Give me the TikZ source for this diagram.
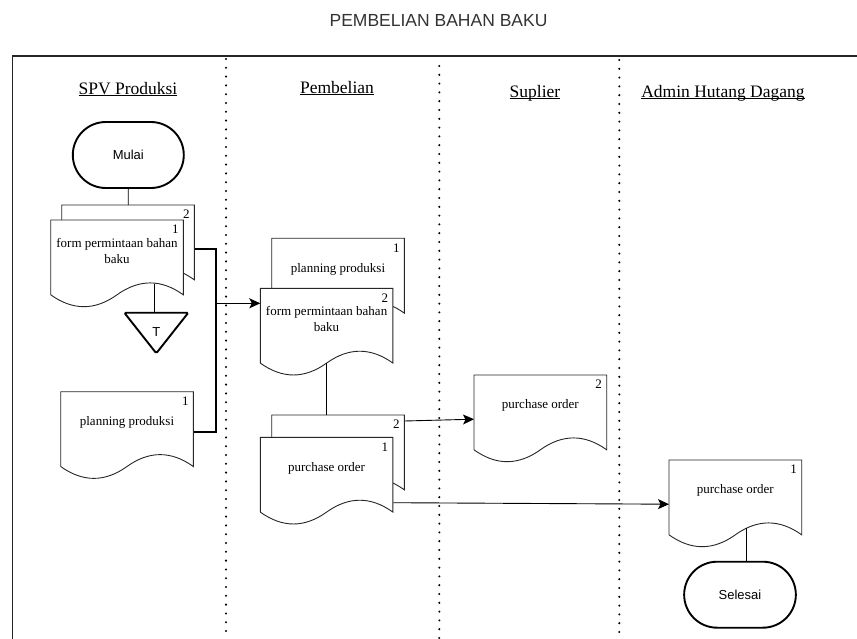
\documentclass[tikz,border=0pt]{standalone}
\usepackage{fontspec}
\setmainfont{Liberation Serif}
\setsansfont{Liberation Sans}
\usetikzlibrary{arrows.meta,calc}
\definecolor{titlegray}{HTML}{333333}
\newcommand\hdrul[1]{\setbox0\hbox{#1}\rlap{\rule[-2pt]{\wd0}{0.8pt}}\box0}
% #1 name, #2 X, #3 Y (top-left), #4 w, #5 h, #6 number, #7 text
\newcommand\docshape[7]{%
  \node[docframe, minimum width=#4pt, minimum height=#5pt, anchor=north west] (#1) at (#2,#3) {};
  \filldraw[docline] (#2,#3) -- ({#2+#4},#3) -- ({#2+#4},{#3+0.85*#5})
    .. controls ({#2+0.8333*#4},{#3+0.67*#5}) and ({#2+0.6667*#4},{#3+0.67*#5}) .. ({#2+0.5*#4},{#3+0.85*#5})
    .. controls ({#2+0.3333*#4},{#3+1.03*#5}) and ({#2+0.1667*#4},{#3+1.03*#5}) .. (#2,{#3+0.85*#5}) -- cycle;
  \node[numlabel] (#1-n) at ({#2+#4-8},{#3+9.5}) {#6};
  \node[doctext] (#1-t) at ({#2+#4/2},{#3+0.35*#5}) {#7};
}
\tikzset{
  docframe/.style={rectangle, draw=none, inner sep=0pt},
  docline/.style={draw=black!85, fill=white, line width=0.9pt},
  numlabel/.style={inner sep=0pt, font=\fontsize{13}{15}\selectfont},
  doctext/.style={inner sep=0pt, align=center, font=\fontsize{13}{16.5}\selectfont},
  term/.style={rectangle, draw=black, line width=1.9pt, rounded corners=33pt, minimum width=111pt, minimum height=66pt, fill=white, font=\sffamily\fontsize{13}{15}\selectfont},
  header/.style={inner sep=0pt, font=\fontsize{17.5}{20}\selectfont},
  title/.style={inner sep=0pt, text=titlegray, font=\sffamily\fontsize{17.5}{20}\selectfont},
  conn/.style={draw=black, line width=0.9pt},
  arrowconn/.style={draw=black, line width=0.9pt, -{Stealth[length=11pt,width=10pt,inset=2.5pt]}},
  bracket/.style={draw=black, line width=2pt},
  divider/.style={draw=black, line width=2.3pt, line cap=round, dash pattern=on 0pt off 8.8pt},
  frameline/.style={draw=black!85, line width=1.1pt},
  trishape/.style={draw=black, line width=1.9pt, rounded corners=1.5pt, fill=white},
  trilabel/.style={inner sep=0pt, font=\sffamily\fontsize{13}{15}\selectfont}
}
\begin{document}
\begin{tikzpicture}[x=1pt,y=-1pt]
\useasboundingbox (0,0) rectangle (857,639);
% title and frame
\node[title] (ttl) at (438.5,21) {PEMBELIAN BAHAN BAKU};
\draw[frameline] (857,56) -- (12.3,56) -- (12.3,639);
\draw[divider] (226,59) -- (226,639);
\draw[divider] (439.3,66) -- (439.3,639);
\draw[divider] (619.3,60) -- (619.3,639);
% headers
\node[header] (h1) at (128,89) {\hdrul{SPV Produksi}};
\node[header] (h2) at (337,88) {\hdrul{Pembelian}};
\node[header] (h3) at (535,93) {\hdrul{Suplier}};
\node[header] (h4) at (723,93) {\hdrul{Admin Hutang Dagang}};
% start
\node[term] (mulai) at (128.3,155) {Mulai};
% SPV documents
\docshape{spvback}{61.7}{205}{132.6}{88}{2}{}
\docshape{spvform}{50.7}{220}{132.6}{88}{1}{form permintaan bahan\\baku}
\docshape{spvplan}{60.7}{391.7}{132.6}{88}{1}{planning produksi}
% archive triangle
\coordinate (tric) at (156.3,332);
\draw[trishape] ([shift={(-32pt,19.3pt)}]tric) -- ([shift={(32pt,19.3pt)}]tric) -- ([shift={(0pt,-21.3pt)}]tric) -- cycle;
\node[trilabel] (tri) at (tric) {T};
% Pembelian documents
\docshape{pbplan}{271.7}{238.3}{132.6}{88}{1}{planning produksi}
\docshape{pbform}{260.3}{288.3}{132.6}{88}{2}{form permintaan bahan\\baku}
\docshape{poback}{271.7}{415}{132.6}{88}{2}{}
\docshape{pofront}{260.3}{437.3}{132.6}{88}{1}{purchase order}
% Suplier
\docshape{suppo}{474}{375}{132.7}{88}{2}{purchase order}
% Admin
\docshape{adminpo}{669}{460}{132.7}{88}{1}{purchase order}
\node[term, minimum width=111.7pt] (selesai) at (740,594.7) {Selesai};
% connectors
\draw[conn] (mulai.south) -- (spvback.north);
\coordinate (spvform-b) at ([xshift=-2.3pt]tric |- 0,284);
\draw[conn] (spvform-b) -- ([xshift=-2.3pt,yshift=19.3pt]tric);
\coordinate (brk) at (215.7,303.3);
\draw[bracket] ([yshift=-44.3pt]spvback.north east) -| (brk) |- ([yshift=-40pt]spvplan.north east);
\draw[arrowconn] (brk) -- (brk -| pbform.west);
\coordinate (pbform-b) at ([yshift=-74.6pt]pbform.north);
\draw[conn] (pbform-b) -- (pbform-b |- poback.north);
\draw[arrowconn] ([yshift=-6pt]poback.north east) -- (suppo.west);
\draw[arrowconn] ([yshift=-65.4pt]pofront.north east) -- (adminpo.west);
\coordinate (adminpo-b) at ([xshift=11.35pt,yshift=-68pt]adminpo.north);
\draw[conn] (adminpo-b) -- (adminpo-b |- selesai.north);
\end{tikzpicture}
\end{document}
